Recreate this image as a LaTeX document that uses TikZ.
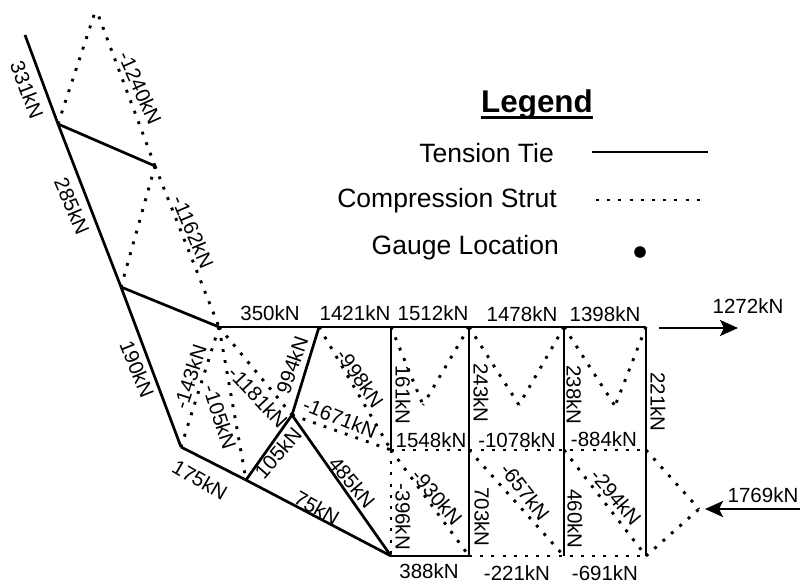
\documentclass[tikz,border=0pt]{standalone}
\usepackage{xcolor}
\usepackage{fontspec}
\setmainfont{Liberation Sans}
\usepackage{tikz}
\usetikzlibrary{arrows.meta, positioning}

\begin{document}
\begin{tikzpicture}[
    x=1pt, y=-1pt,
    lbl/.style={inner sep=0pt, font=\fontsize{20.5}{24}\selectfont},
    legtext/.style={inner sep=0pt, anchor=east, font=\fontsize{26.5}{30}\selectfont},
    tie/.style={line width=2.7pt},
    strut/.style={line width=2.9pt, dash pattern=on 2.9pt off 8.3pt},
    arrow/.style={-{Stealth[length=18pt, width=16pt, inset=4pt]}, line width=2.7pt}
]
\useasboundingbox (0,0) rectangle (803,586);

% joints of the truss
\coordinate (a) at (25,35);
\coordinate (b) at (58,124);
\coordinate (apex) at (96,9);
\coordinate (d) at (155,166);
\coordinate (e) at (121,287);
\coordinate (f) at (219,327);
\coordinate (g) at (181,447);
\coordinate (h) at (246,480);
\coordinate (i) at (292,415);
\coordinate (j) at (319,327);
\coordinate (t1) at (391,327);
\coordinate (t2) at (469,327);
\coordinate (t3) at (564,327);
\coordinate (t4) at (646,327);
\coordinate (m1) at (391,450);
\coordinate (m2) at (469,450);
\coordinate (m3) at (564,450);
\coordinate (m4) at (646,450);
\coordinate (b1) at (391,556);
\coordinate (b2) at (469,556);
\coordinate (b3) at (564,556);
\coordinate (b4) at (646,556);
\coordinate (v1) at (423,405);
\coordinate (v2) at (519,405);
\coordinate (v3) at (615,406);
\coordinate (tipr) at (699,509);

% ties
\draw[tie] (a) -- (b);
\draw[tie] (b) -- (e);
\draw[tie] (e) -- (g);
\draw[tie] (g) -- (h);
\draw[tie] (h) -- (b1);
\draw[tie] (b) -- (d);
\draw[tie] (e) -- (f);
\draw[tie] (f) -- (t4);
\draw[tie] (j) -- (i);
\draw[tie] (h) -- (i);
\draw[tie] (i) -- (b1);
\draw[tie] (t1) -- (m1);
\draw[tie] (t2) -- (b2);
\draw[tie] (t3) -- (b3);
\draw[tie] (t4) -- (b4);
\draw[tie] (b1) -- (b2);

% struts
\draw[strut] (b) -- (apex);
\draw[strut] (d) -- (apex);
\draw[strut] (d) -- (e);
\draw[strut] (d) -- (f);
\draw[strut] (f) -- (g);
\draw[strut] (f) -- (h);
\draw[strut] (f) -- (i);
\draw[strut] (j) -- (m1);
\draw[strut] (i) -- (m1);
\draw[strut] (m1) -- (m4);
\draw[strut] (m1) -- (b1);
\draw[strut] (t1) -- (v1);
\draw[strut] (t2) -- (v1);
\draw[strut] (t2) -- (v2);
\draw[strut] (t3) -- (v2);
\draw[strut] (t3) -- (v3);
\draw[strut] (t4) -- (v3);
\draw[strut] (m1) -- (b2);
\draw[strut] (m2) -- (b3);
\draw[strut] (m3) -- (b4);
\draw[strut] (m4) -- (tipr);
\draw[strut] (b4) -- (tipr);
\draw[strut] (b2) -- (b4);

% forces
\node[lbl, rotate=-69] (n331) at (27,90) {331kN};
\node[lbl, rotate=-66] (n1240) at (140,88) {-1240kN};
\node[lbl, rotate=-67] (n285) at (72,206) {285kN};
\node[lbl, rotate=-67] (n1162) at (193,232) {-1162kN};
\node[lbl, rotate=-68] (n190) at (137,369) {190kN};
\node[lbl] (n350) at (270,313) {350kN};
\node[lbl] (n1421) at (355,313) {1421kN};
\node[lbl] (n1512) at (433,313) {1512kN};
\node[lbl] (n1478) at (522,314) {1478kN};
\node[lbl] (n1398) at (605,314) {1398kN};
\node[lbl, rotate=72] (n143) at (190,377) {-143kN};
\node[lbl, rotate=-72] (n105a) at (220,417) {-105kN};
\node[lbl, rotate=-47] (n1181) at (258,397) {-1181kN};
\node[lbl, rotate=71] (n994) at (292,365) {994kN};
\node[lbl, rotate=-55] (n998) at (360,378) {-998kN};
\node[lbl, rotate=-22] (n1671) at (340,418) {-1671kN};
\node[lbl, rotate=-90] (n161) at (403,395) {161kN};
\node[lbl] (n1548) at (431,440) {1548kN};
\node[lbl] (n1078) at (517,440) {-1078kN};
\node[lbl] (n884) at (604,439) {-884kN};
\node[lbl, rotate=-90] (n221a) at (658,402) {221kN};
\node[lbl, rotate=-90] (n243) at (481,393) {243kN};
\node[lbl, rotate=-90] (n238) at (574,395) {238kN};
\node[lbl, rotate=-50] (n930) at (437,497) {-930kN};
\node[lbl, rotate=-90] (n396) at (403,517) {-396kN};
\node[lbl, rotate=-90] (n703) at (482,517) {703kN};
\node[lbl, rotate=-52] (n657) at (525,492) {-657kN};
\node[lbl, rotate=-90] (n460) at (575,519) {460kN};
\node[lbl, rotate=-50] (n294) at (616,497) {-294kN};
\node[lbl] (n388) at (429,571) {388kN};
\node[lbl] (n221b) at (517,573) {-221kN};
\node[lbl] (n691) at (605,573) {-691kN};
\node[lbl, rotate=-30] (n175) at (200,480) {175kN};
\node[lbl, rotate=49] (n105b) at (278,453) {105kN};
\node[lbl, rotate=-50] (n485) at (352,482) {485kN};
\node[lbl, rotate=-30] (n75) at (317,508) {75kN};

% loads
\coordinate (load1a) at (659,328);
\coordinate (load1b) at (738,328);
\coordinate (load2a) at (800,509);
\coordinate (load2b) at (705,509);
\draw[arrow] (load1a) -- (load1b);
\draw[arrow] (load2a) -- (load2b);
\node[lbl] (n1272) at (748,306) {1272kN};
\node[lbl] (n1769) at (763,495) {1769kN};

% legend
\node[inner sep=0pt, font=\fontsize{31.4}{36}\bfseries\selectfont] (legend) at (537,104) {Legend};
\draw[tie] ([yshift=1.5pt]legend.south west) -- ([yshift=1.5pt]legend.south east);
\node[legtext] (lten) at (554,153) {Tension Tie};
\node[legtext] (lcom) at (557,201) {Compression Strut};
\node[legtext] (lgau) at (559,248) {Gauge Location};
\coordinate (ten1) at (592,152);
\coordinate (ten2) at (708,152);
\coordinate (com1) at (596,200);
\coordinate (com2) at (705,200);
\draw[tie] (ten1) -- (ten2);
\draw[strut] (com1) -- (com2);
\fill (640,252) circle (5.8pt);
\end{tikzpicture}
\end{document}
